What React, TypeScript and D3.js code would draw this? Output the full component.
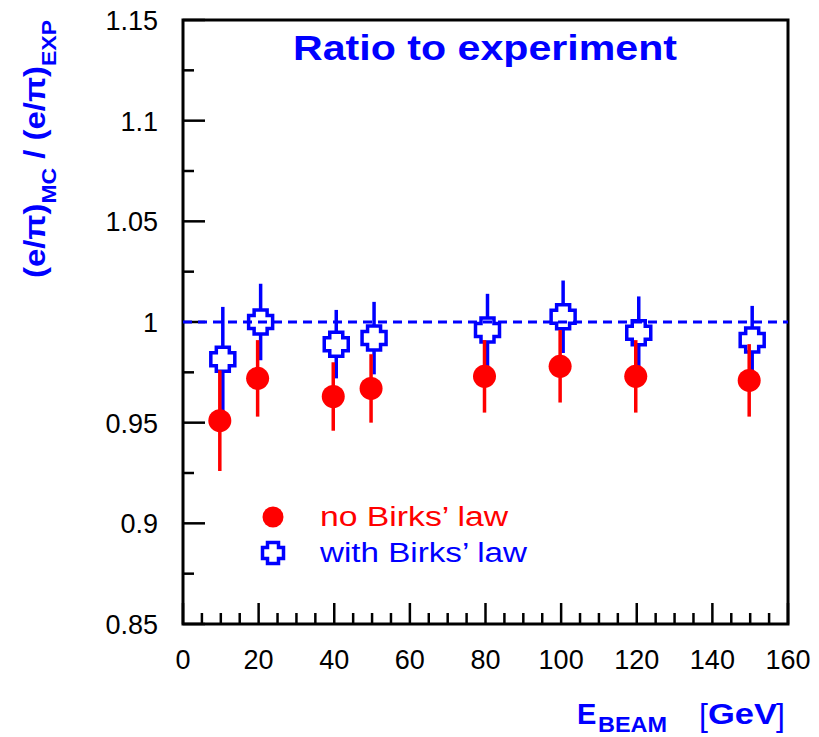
import React from "react";
import * as d3 from "d3";

const energies = [10, 20, 40, 50, 80, 100, 120, 150];
const noBirks = [0.951, 0.972, 0.963, 0.967, 0.973, 0.978, 0.973, 0.971];
const noBirksErr = [0.025, 0.019, 0.017, 0.017, 0.018, 0.018, 0.018, 0.018];
const withBirks = [0.9815, 1.0, 0.989, 0.992, 0.996, 1.0026, 0.9947, 0.991];
const withBirksErr = [0.026, 0.019, 0.017, 0.018, 0.018, 0.018, 0.018, 0.017];
const xTickLabels = [0, 20, 40, 60, 80, 100, 120, 140, 160];
const yTickLabels = [0.85, 0.9, 0.95, 1, 1.05, 1.1, 1.15];
const legendLabels = ["no Birks\u2019 law", "with Birks\u2019 law"];
const titleText = "Ratio to experiment";

const FONT = "'Liberation Sans', Arial, Helvetica, sans-serif";
const RED = "#ff0000";
const BLUE = "#0000ff";

const L = 183, R = 788, T = 20, B = 624;

function crossPath(a: number, b: number) {
  return `M${-b},${-a}H${b}V${-b}H${a}V${b}H${b}V${a}H${-b}V${b}H${-a}V${-b}H${-b}Z`;
}

export default function App() {
  const x = d3.scaleLinear().domain([0, 160]).range([L, R]);
  const y = d3.scaleLinear().domain([0.85, 1.15]).range([B, T]);
  const xMinor = d3.range(0, 161, 5);
  const yMinor = d3.range(0, 13).map((i) => 0.85 + i * 0.025);
  const fmt = (v: number) => String(+v.toFixed(2));

  return (
    <svg
      width={819}
      height={737}
      style={{ position: "absolute", left: 0, top: 0, background: "#fff" }}
      fontFamily={FONT}
    >
      <rect x={0} y={0} width={819} height={737} fill="#fff" />
      {/* frame */}
      <rect x={L} y={T} width={R - L} height={B - T} fill="none" stroke="#000" strokeWidth={3} />
      {/* x ticks */}
      {xMinor.map((v) => {
        const major = v % 20 === 0;
        return (
          <line key={"xt" + v} x1={x(v)} x2={x(v)} y1={B} y2={B - (major ? 21 : 11)} stroke="#000" strokeWidth={2.5} />
        );
      })}
      {/* y ticks */}
      {yMinor.map((v, i) => {
        const major = i % 2 === 0;
        return (
          <line key={"yt" + i} x1={L} x2={L + (major ? 22 : 11)} y1={y(v)} y2={y(v)} stroke="#000" strokeWidth={2.5} />
        );
      })}
      {/* x tick labels */}
      {xTickLabels.map((v) => (
        <text key={"xl" + v} x={x(v)} y={669} textAnchor="middle" fontSize={27} fill="#000">
          {v}
        </text>
      ))}
      {/* y tick labels */}
      {yTickLabels.map((v) => (
        <text key={"yl" + v} x={158} y={y(v) + 10} textAnchor="end" fontSize={27} fill="#000">
          {fmt(v)}
        </text>
      ))}

      {/* blue error bars */}
      {energies.map((e, i) => (
        <line
          key={"be" + i}
          x1={x(e) + 2}
          x2={x(e) + 2}
          y1={y(withBirks[i] - withBirksErr[i])}
          y2={y(withBirks[i] + withBirksErr[i])}
          stroke={BLUE}
          strokeWidth={3.5}
        />
      ))}
      {/* blue crosses */}
      {energies.map((e, i) => (
        <path
          key={"bc" + i}
          d={crossPath(12, 6.5)}
          transform={`translate(${x(e) + 2},${y(withBirks[i])})`}
          fill="#fff"
          stroke={BLUE}
          strokeWidth={3.5}
        />
      ))}
      {/* reference line */}
      <line x1={L} x2={R} y1={y(1)} y2={y(1)} stroke={BLUE} strokeWidth={3} strokeDasharray="9 6" />
      {/* red error bars */}
      {energies.map((e, i) => (
        <line
          key={"re" + i}
          x1={x(e) - 1}
          x2={x(e) - 1}
          y1={y(noBirks[i] - noBirksErr[i])}
          y2={y(noBirks[i] + noBirksErr[i])}
          stroke={RED}
          strokeWidth={3.5}
        />
      ))}
      {/* red circles */}
      {energies.map((e, i) => (
        <circle key={"rc" + i} cx={x(e) - 1} cy={y(noBirks[i])} r={11.5} fill={RED} />
      ))}

      {/* title */}
      <text x={293} y={60} fontSize={35} fontWeight="bold" fill={BLUE} textLength={384} lengthAdjust="spacingAndGlyphs">
        {titleText}
      </text>

      {/* legend */}
      <circle cx={273} cy={517} r={10.5} fill={RED} />
      <text x={320} y={526} fontSize={27} fill={RED} textLength={188} lengthAdjust="spacingAndGlyphs">
        {legendLabels[0]}
      </text>
      <path d={crossPath(10.5, 5.5)} transform="translate(273,553)" fill="#fff" stroke={BLUE} strokeWidth={3.5} />
      <text x={320} y={562} fontSize={27} fill={BLUE} textLength={207} lengthAdjust="spacingAndGlyphs">
        {legendLabels[1]}
      </text>

      {/* y axis label */}
      <g transform="translate(45,278) rotate(-90)">
        <text x={0} y={0} fontSize={30} fontWeight="bold" fill={BLUE} textLength={258} lengthAdjust="spacingAndGlyphs">
          <tspan>(e/{"\u03C0"})</tspan>
          <tspan fontSize={21} dy={11}>MC</tspan>
          <tspan dy={-11}> / (e/{"\u03C0"})</tspan>
          <tspan fontSize={21} dy={11}>EXP</tspan>
        </text>
      </g>

      {/* x axis label */}
      <text x={577} y={724} fontSize={29} fontWeight="bold" fill={BLUE}>E</text>
      <text x={598} y={732} fontSize={22} fontWeight="bold" fill={BLUE} textLength={69} lengthAdjust="spacingAndGlyphs">BEAM</text>
      <text x={699} y={726} fontSize={32} fill={BLUE}>[</text>
      <text x={708} y={724} fontSize={29} fontWeight="bold" fill={BLUE} textLength={69} lengthAdjust="spacingAndGlyphs">GeV</text>
      <text x={776} y={726} fontSize={32} fill={BLUE}>]</text>
    </svg>
  );
}
